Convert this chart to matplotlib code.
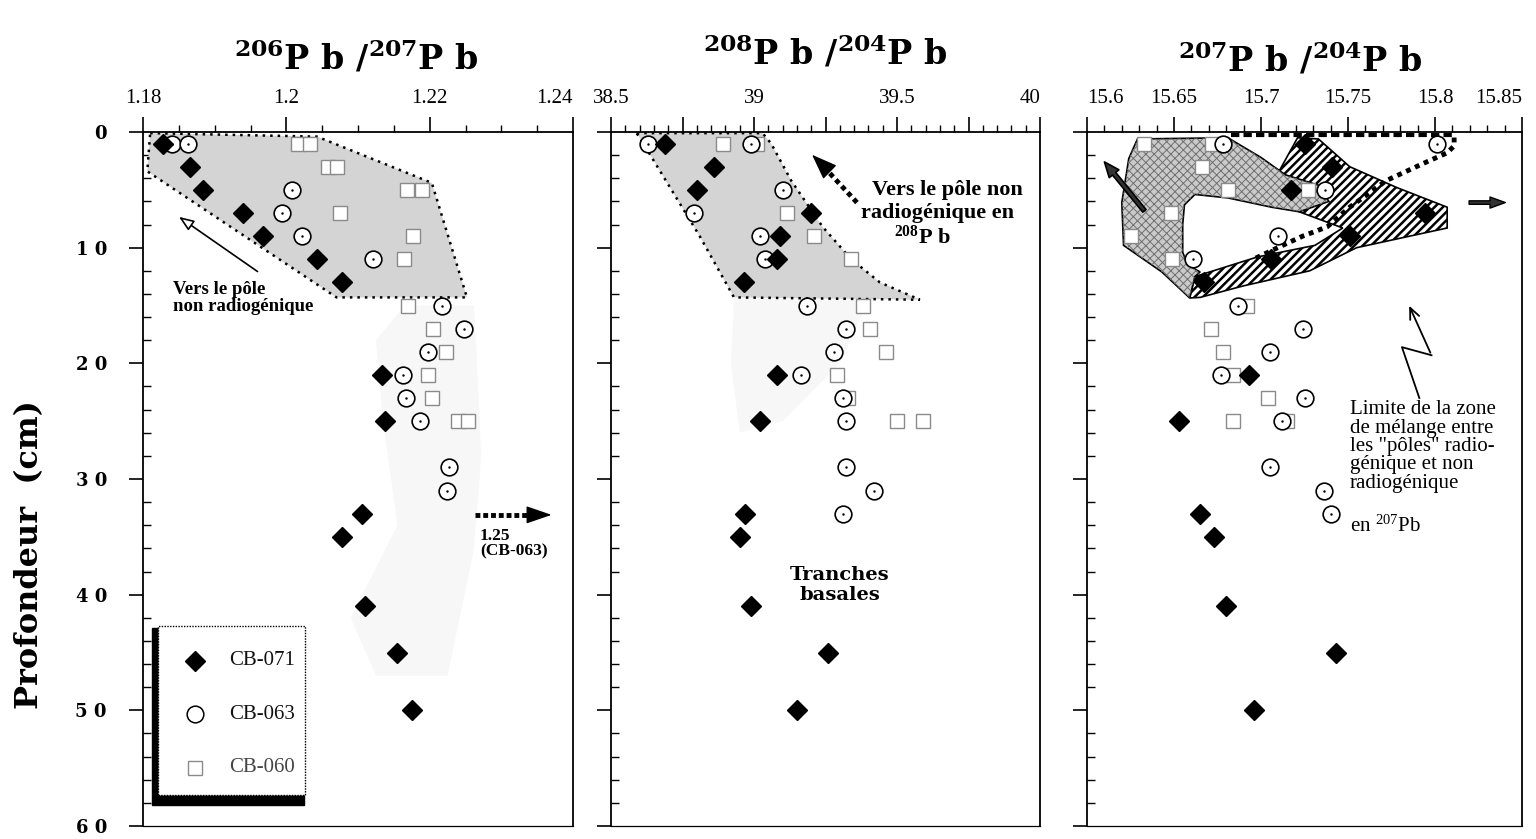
import numpy as np
import matplotlib
matplotlib.use("Agg")
import matplotlib.pyplot as plt
from matplotlib.patches import Polygon, Rectangle
from matplotlib.ticker import MultipleLocator, FixedLocator, FixedFormatter

plt.rcParams['font.family'] = ['Liberation Serif', 'DejaVu Serif']
plt.rcParams['mathtext.default'] = 'regular'
plt.rcParams['hatch.linewidth'] = 1.8

# ---- data (depth in cm) ----
depth_071 = [1, 3, 5, 7, 9, 11, 13, 21, 25, 33, 35, 41, 45, 50]
pb206_207_071 = [1.1828, 1.1866, 1.1884, 1.1940, 1.1968, 1.2043, 1.2078,
                 1.2133, 1.2138, 1.2106, 1.2078, 1.2110, 1.2154, 1.2175]
pb208_204_071 = [38.69, 38.86, 38.80, 39.20, 39.09, 39.08, 38.965,
                 39.08, 39.02, 38.97, 38.95, 38.99, 39.26, 39.15]
pb207_204_071 = [15.725, 15.741, 15.717, 15.794, 15.751, 15.706, 15.667,
                 15.693, 15.653, 15.665, 15.673, 15.680, 15.743, 15.696]

depth_063_a = [1, 1, 5, 7, 9, 11, 15, 17, 19, 21, 23, 25, 29, 31]
pb206_207_063 = [1.1840, 1.1863, 1.2008, 1.1994, 1.2022, 1.2121, 1.2217,
                 1.2248, 1.2198, 1.2163, 1.2167, 1.2187, 1.2227, 1.2224]
depth_063_b = [1, 1, 5, 7, 9, 11, 15, 17, 19, 21, 23, 25, 29, 31, 33]
pb208_204_063 = [38.63, 38.99, 39.10, 38.79, 39.02, 39.04, 39.185, 39.32,
                 39.28, 39.165, 39.31, 39.32, 39.32, 39.42, 39.31]
depth_063_c = [1, 1, 5, 9, 11, 15, 17, 19, 21, 23, 25, 29, 31, 33]
pb207_204_063 = [15.678, 15.801, 15.737, 15.710, 15.661, 15.687, 15.724,
                 15.705, 15.677, 15.725, 15.712, 15.705, 15.736, 15.740]

depth_060_a = [1, 1, 3, 3, 5, 5, 7, 9, 11, 15, 17, 19, 21, 23, 25, 25]
pb206_207_060 = [1.2016, 1.2033, 1.2058, 1.2071, 1.2168, 1.2189, 1.2075, 1.2177,
                 1.2164, 1.2170, 1.2205, 1.2223, 1.2198, 1.2203, 1.2240, 1.2253]
depth_060_b = [1, 1, 7, 9, 11, 15, 17, 19, 21, 23, 25, 25]
pb208_204_060 = [38.89, 39.01, 39.115, 39.21, 39.34, 39.38, 39.405, 39.46,
                 39.29, 39.33, 39.50, 39.59]
depth_060_c = [1, 1, 3, 5, 5, 7, 9, 11, 15, 17, 19, 21, 23, 25, 25]
pb207_204_060 = [15.633, 15.672, 15.666, 15.681, 15.727, 15.648, 15.625, 15.649,
                 15.692, 15.671, 15.678, 15.684, 15.704, 15.684, 15.715]

# shaded zones (value, depth)
zone1 = [(1.181, 0.1), (1.2043, 0.4), (1.2203, 4.4), (1.2252, 14.3),
         (1.207, 14.3), (1.1806, 3.4)]
zone1_faint = [(1.2165, 15), (1.2262, 15), (1.2272, 28), (1.2262, 36),
               (1.2225, 47), (1.2125, 47), (1.209, 42), (1.2155, 34),
               (1.2135, 25), (1.2125, 18)]
zone2 = [(38.59, 0.1), (39.03, 0.1), (39.06, 1.0), (39.13, 4.2), (39.24, 8.2),
         (39.34, 11.0), (39.44, 13.0), (39.58, 14.5), (38.93, 14.3),
         (38.81, 9.0), (38.64, 2.1)]
zone2_faint = [(38.93, 14.4), (39.40, 14.6), (39.30, 20), (39.10, 25),
               (38.95, 26), (38.92, 20)]
zone3_hatch = [(15.721, 0.5), (15.733, 0.6), (15.751, 3.0), (15.778, 4.8),
               (15.807, 6.5), (15.807, 8.3), (15.755, 10.0), (15.728, 12.0),
               (15.69, 13.3), (15.665, 14.3), (15.659, 14.35), (15.662, 12.5),
               (15.698, 10.8), (15.731, 9.8), (15.747, 8.3), (15.722, 6.9),
               (15.71, 3.5)]
zone3_gray = [(15.629, 0.6), (15.681, 0.5), (15.70, 2.2), (15.714, 3.7),
              (15.733, 4.6), (15.739, 6.0), (15.722, 6.9), (15.706, 6.5),
              (15.681, 5.7), (15.662, 5.4), (15.656, 6.3), (15.655, 8.0),
              (15.655, 10.4), (15.658, 11.5), (15.665, 12.1), (15.662, 12.5),
              (15.659, 14.35), (15.643, 12.1), (15.621, 9.8), (15.620, 6.1),
              (15.624, 2.3)]
mix_line = [(15.697, 10.9), (15.711, 9.9), (15.724, 9.0), (15.738, 8.2),
            (15.751, 6.5), (15.772, 4.2), (15.795, 2.6), (15.807, 1.8),
            (15.811, 1.2), (15.811, 0.2)]

fig = plt.figure(figsize=(15.36, 8.39), dpi=100)
W, H = 1536, 839
def add_ax(x0, x1):
    return fig.add_axes([x0 / W, 1 - 826 / H, (x1 - x0) / W, 694 / H])

ax1 = add_ax(143, 573)
ax2 = add_ax(611, 1040)
ax3 = add_ax(1087, 1522)

def series(ax, d71, v71, d63, v63, d60, v60):
    ax.plot(v60, d60, ls='none', marker='s', ms=9.5, mfc='white', mec='#8a8a8a',
            mew=1.0, zorder=3)
    ax.plot(v63, d63, ls='none', marker='o', ms=12, mfc='white', mec='black',
            mew=1.2, zorder=4)
    ax.plot(v63, d63, ls='none', marker='.', ms=1.5, color='black', zorder=4)
    ax.plot(v71, d71, ls='none', marker='D', ms=10.5, color='black', zorder=5)

def style(ax, xlim, major, minor, labels, first_ha='center', last_ha='right'):
    ax.set_xlim(*xlim)
    ax.set_ylim(60, 0)
    ax.xaxis.tick_top()
    ax.xaxis.set_major_locator(FixedLocator(major))
    ax.xaxis.set_major_formatter(FixedFormatter(labels))
    ax.xaxis.set_minor_locator(MultipleLocator(minor))
    ax.yaxis.set_major_locator(MultipleLocator(10))
    ax.yaxis.set_minor_locator(MultipleLocator(2))
    ax.tick_params(axis='x', which='major', direction='out', length=11, width=1.2,
                   pad=6, labelsize=15)
    ax.tick_params(axis='x', which='minor', direction='out', length=5, width=1.0)
    ax.tick_params(axis='y', which='major', direction='out', length=10, width=1.2)
    ax.tick_params(axis='y', which='minor', direction='in', length=6, width=1.0)
    for s in ax.spines.values():
        s.set_linewidth(1.3)
    ax.spines['bottom'].set_linewidth(0.9)
    ax.set_yticklabels([])
    tl = ax.get_xticklabels()
    tl[0].set_ha(first_ha)
    tl[-1].set_ha(last_ha)

# ---------------- panel 1 ----------------
ax1.add_patch(Polygon(zone1_faint, closed=True, fc='#f7f7f7', ec='none', zorder=1))
ax1.add_patch(Polygon(zone1, closed=True, fc='#d4d4d4', ec='black', ls=(0, (1, 2)),
                      lw=1.8, zorder=2))
series(ax1, depth_071, pb206_207_071, depth_063_a, pb206_207_063,
       depth_060_a, pb206_207_060)
style(ax1, (1.18, 1.24), [1.18, 1.20, 1.22, 1.24], 0.005,
      ['1.18', '1.2', '1.22', '1.24'])
ax1.set_yticks(range(0, 61, 10))
ax1.set_yticklabels(['0', '1 0', '2 0', '3 0', '4 0', '5 0', '6 0'],
                    fontfamily='DejaVu Serif', fontweight='bold', fontsize=13)
ax1.tick_params(axis='y', which='major', pad=16)

ax1.annotate('', xy=(1.1847, 7.2), xytext=(1.1963, 12.2),
             arrowprops=dict(arrowstyle='-|>,head_length=0.9,head_width=0.35',
                             fc='white', ec='black', lw=1.2), zorder=6)
ax1.text(1.1842, 12.9, 'Vers le pôle\nnon radiogénique', fontsize=13.5,
         fontweight='bold', va='top', ha='left', linespacing=0.95)
ax1.plot([1.2263, 1.2352], [33.1, 33.1], ls=(0, (1, 0.6)), lw=3.5, color='black')
ax1.annotate('', xy=(1.2374, 33.1), xytext=(1.2348, 33.1),
             arrowprops=dict(arrowstyle='-|>,head_length=1.6,head_width=0.55',
                             fc='black', ec='black', lw=1))
ax1.text(1.2270, 34.2, '1.25\n(CB-063)', fontsize=12.5, fontweight='bold',
         va='top', ha='left', linespacing=0.95)

# legend box with shadow on left and bottom
ax1.add_patch(Rectangle((0.022, 0.030), 0.352, 0.255, transform=ax1.transAxes,
                        fc='black', ec='black', zorder=6))
ax1.add_patch(Rectangle((0.036, 0.045), 0.340, 0.243, transform=ax1.transAxes,
                        fc='white', ec='black', lw=1.0, ls=(0, (1, 1)), zorder=7))
legend_items = [('CB-071', dict(marker='D', ms=10.5, color='black')),
                ('CB-063', dict(marker='o', ms=12, mfc='white', mec='black', mew=1.1)),
                ('CB-060', dict(marker='s', ms=9.5, mfc='white', mec='#8a8a8a', mew=1.0))]
for i, (name, kw) in enumerate(legend_items):
    yy = 0.238 - i * 0.077
    ax1.plot([0.121], [yy], transform=ax1.transAxes, ls='none', zorder=8,
             clip_on=False, **kw)
    ax1.text(0.20, yy, name, transform=ax1.transAxes, fontsize=15, va='center',
             ha='left', zorder=8, color='#111111' if i < 2 else '#444444')

# ---------------- panel 2 ----------------
ax2.add_patch(Polygon(zone2_faint, closed=True, fc='#f7f7f7', ec='none', zorder=1))
ax2.add_patch(Polygon(zone2, closed=True, fc='#d4d4d4', ec='black', ls=(0, (1, 2)),
                      lw=1.8, zorder=2))
series(ax2, depth_071, pb208_204_071, depth_063_b, pb208_204_063,
       depth_060_b, pb208_204_060)
style(ax2, (38.5, 40.0), np.arange(38.5, 40.01, 0.25), 0.05,
      ['38.5', '', '39', '', '39.5', '', '40'])
ax2.plot([39.36, 39.24], [6.1, 2.9], ls=(0, (1, 0.8)), lw=3.5, color='black')
ax2.annotate('', xy=(39.196, 1.8), xytext=(39.25, 3.1),
             arrowprops=dict(arrowstyle='-|>,head_length=1.6,head_width=0.6',
                             fc='black', ec='black', lw=1))
ax2.text(39.94, 5.0, 'Vers le pôle non', fontsize=16, fontweight='bold',
         ha='right', va='center')
ax2.text(39.91, 7.0, 'radiogénique en', fontsize=16, fontweight='bold',
         ha='right', va='center')
ax2.text(39.59, 9.1, '$^{208}$P b', fontsize=16, fontweight='bold',
         ha='center', va='center')
ax2.text(39.30, 39.2, 'Tranches\nbasales', fontsize=14, fontweight='bold',
         fontfamily='DejaVu Serif', ha='center', va='center', linespacing=1.15)

# ---------------- panel 3 ----------------
ax3.add_patch(Polygon(zone3_hatch, closed=True, fc='white', ec='black', lw=1.2,
                      hatch='////', zorder=1))
ax3.add_patch(Polygon(zone3_gray, closed=True, fc='#cacaca', ec='black', lw=1.2,
                      zorder=1.5))
with plt.rc_context({'hatch.linewidth': 0.7}):
    dots = Polygon(zone3_gray, closed=True, fc='none', ec='#707070', lw=0,
                   hatch='xxxx', zorder=1.55)
    if hasattr(dots, 'set_hatch_linewidth'):
        dots.set_hatch_linewidth(0.7)
    ax3.add_patch(dots)
mx, my = zip(*mix_line)
ax3.plot(mx, my, ls=(0, (1, 1)), lw=3.5, color='black', zorder=2)
ax3.plot([15.683, 15.811], [0.3, 0.3], ls=(0, (2, 1)), lw=3.0, color='black',
         zorder=2)
series(ax3, depth_071, pb207_204_071, depth_063_c, pb207_204_063,
       depth_060_c, pb207_204_060)
style(ax3, (15.6, 15.85), [15.6, 15.65, 15.7, 15.75, 15.8, 15.85], 0.01,
      ['15.6', '15.65', '15.7', '15.75', '15.8', '15.85'], first_ha='left')
ax3.annotate('', xy=(15.609, 2.4), xytext=(15.634, 7.0),
             arrowprops=dict(arrowstyle='simple,head_length=1.1,head_width=0.9,tail_width=0.3',
                             fc='#333333', ec='black', lw=1.2), zorder=6)
ax3.annotate('', xy=(15.842, 6.1), xytext=(15.818, 6.1),
             arrowprops=dict(arrowstyle='simple,head_length=1.1,head_width=0.8,tail_width=0.25',
                             fc='#333333', ec='black', lw=1.0), zorder=6)
ax3.plot([15.798, 15.781, 15.791], [19.3, 18.6, 23.0], color='black', lw=1.3)
ax3.annotate('', xy=(15.7845, 14.8), xytext=(15.798, 19.3),
             arrowprops=dict(arrowstyle='->,head_length=0.8,head_width=0.35',
                             color='black', lw=1.3))
ax3.text(15.751, 23.2, 'Limite de la zone\nde mélange entre\nles "pôles" radio-\n'
         'génique et non\nradiogénique', fontsize=15, ha='left', va='top',
         linespacing=0.95)
ax3.text(15.751, 34.1, 'en $^{207}$Pb', fontsize=15, ha='left', va='center')

# titles and y label
title_kw = dict(fontsize=24, fontweight='bold', fontfamily='DejaVu Serif',
                ha='center', va='center')
fig.text(356 / W, 1 - 58 / H, '$^{206}$P b /$^{207}$P b', **title_kw)
fig.text(825 / W, 1 - 53 / H, '$^{208}$P b /$^{204}$P b', **title_kw)
fig.text(1300 / W, 1 - 60 / H, '$^{207}$P b /$^{204}$P b', **title_kw)
fig.text(30 / W, 1 - 555 / H, 'Profondeur  (cm)', rotation=90, fontsize=23,
         fontweight='bold', fontfamily='DejaVu Serif', ha='center', va='center')

fig.savefig('out.png', dpi=100)
